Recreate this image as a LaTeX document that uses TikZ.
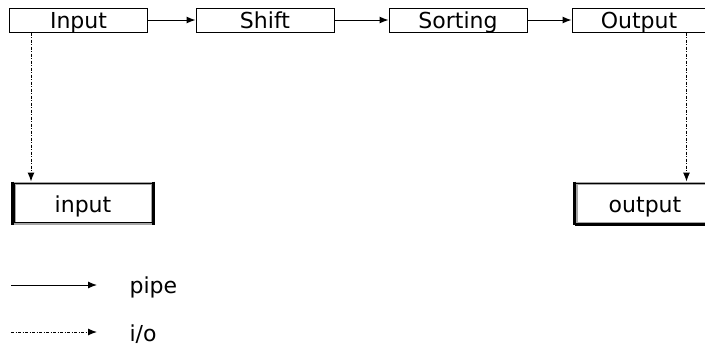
\documentclass[tikz,border=0pt]{standalone}
\usepackage{fontspec}
\setmainfont{DejaVu Sans}
\usetikzlibrary{calc}
\usetikzlibrary{arrows.meta}

\tikzset{
  stage/.style={draw,line width=1pt,minimum width=138pt,minimum height=24pt,inner sep=0pt,text height=16pt,text depth=0pt,font=\fontsize{22}{24}\selectfont},
  device/.style={draw=gray!70,line width=3pt,minimum width=138pt,minimum height=40pt,inner sep=0pt,text height=18pt,text depth=0pt,font=\fontsize{22}{24}\selectfont},
  label/.style={anchor=west,font=\fontsize{22}{24}\selectfont},
  pipe/.style={black,line width=1pt,-{Latex[length=9pt,width=7pt]}},
  io/.style={black,line width=1pt,dash pattern=on 3pt off 1.5pt on 1pt off 1.5pt,-{Latex[length=9pt,width=7pt]}}
}

\begin{document}
\begin{tikzpicture} [x=1pt,y=-1pt]

\useasboundingbox (0,0) rectangle (705,357);

\node[stage] (Input) at (78.5,20) {Input};
\node[stage] (Shift) at (265,20) {Shift};
\node[stage] (Sorting) at (458,20) {Sorting};
\node[stage,minimum width=134pt] (Output) at (639,20) {Output};

\node[device] (inbox) at (83,203) {input};
\node[device] (outbox) at (645,203) {output};
\draw[line width=3pt] (inbox.north west) -- (inbox.south west);
\draw[line width=3pt] (inbox.north east) -- (inbox.south east);
\draw[line width=3pt] (outbox.north west) -- (outbox.south west);
\draw[line width=3pt] (outbox.south west) -- (outbox.south east);
\draw[line width=1pt] ($(inbox.north west)+(1.5,2)$) rectangle ($(inbox.south east)+(-1.5,-2)$);
\draw[line width=1pt] ($(outbox.north west)+(1.5,2)$) -- ($(outbox.north east)+(0,2)$);

\draw[pipe] (Input) -- (Shift);
\draw[pipe] (Shift) -- (Sorting);
\draw[pipe] (Sorting) -- (Output);

\coordinate (a) at ($(Input.south west)+(22,0)$);
\coordinate (b) at ($(Output.south west)+(115,0)$);
\draw[io] (a) -- (a |- inbox.north);
\draw[io] (b) -- (b |- outbox.north);

% legend
\node[label] (pipetext) at (126,287) {pipe};
\node[label] (iotext) at (126,334) {i/o};
\coordinate (p1) at (11,285);
\coordinate (p2) at (97,285);
\coordinate (q1) at (11,332);
\coordinate (q2) at (97,332);
\draw[pipe] (p1) -- (p2);
\draw[io] (q1) -- (q2);

\end{tikzpicture}
\end{document}
